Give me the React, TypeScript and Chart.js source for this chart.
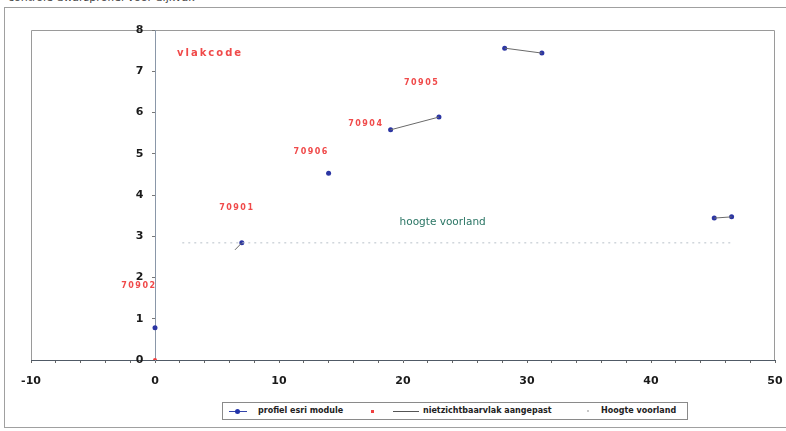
import React, { useEffect, useRef } from "react";
import { Chart, registerables } from "chart.js";

Chart.register(...registerables);

// profiel esri module (blue markers)
const profielX = [0, 7, 14, 19, 22.9, 28.2, 31.2, 45.1, 46.5];
const profielY = [0.78, 2.84, 4.53, 5.58, 5.89, 7.56, 7.44, 3.44, 3.47];

// nietzichtbaarvlak aangepast (grey segments, null = break)
const nzvX = [6.45, 7, null, 19, 22.9, null, 28.2, 31.2, null, 45.1, 46.5];
const nzvY = [2.67, 2.84, null, 5.58, 5.89, null, 7.56, 7.44, null, 3.44, 3.47];

// unnamed red series (vlakcode)
const vlakX = [0];
const vlakY = [0];

// Hoogte voorland
const voorlandX = [2.2, 46.6];
const voorlandY = [2.84, 2.84];

// vlakcode labels
const labelTexts = ["vlakcode", "70905", "70904", "70906", "70901", "70902"];
const labelX = [4.44, 21.5, 17.0, 12.6, 6.6, -1.3];
const labelY = [7.44, 6.72, 5.72, 5.04, 3.68, 1.79];

const noteText = "hoogte voorland";
const noteX = 23.2;
const noteY = 3.35;

const xMin = -10;
const xMax = 50;
const xStep = 2;
const xLabelEvery = 10;
const yMin = 0;
const yMax = 8;
const yStep = 1;

const framePlugin = {
  id: "frame",
  beforeDraw(chart: any) {
    const { ctx, chartArea } = chart;
    ctx.save();
    ctx.strokeStyle = "#9a9a9a";
    ctx.lineWidth = 1;
    ctx.beginPath();
    ctx.moveTo(chartArea.left + 0.5, chartArea.bottom);
    ctx.lineTo(chartArea.left + 0.5, chartArea.top + 0.5);
    ctx.lineTo(chartArea.right - 0.5, chartArea.top + 0.5);
    ctx.lineTo(chartArea.right - 0.5, chartArea.bottom);
    ctx.stroke();
    ctx.restore();
  },
  afterDatasetsDraw(chart: any) {
    const { ctx, scales } = chart;
    const xs = scales.x;
    const ys = scales.y;
    ctx.save();
    ctx.textAlign = "center";
    ctx.textBaseline = "middle";
    labelTexts.forEach((t, i) => {
      const big = i === 0;
      ctx.font = big ? "bold 10px 'DejaVu Sans'" : "bold 8px 'DejaVu Sans'";
      (ctx as any).letterSpacing = big ? "2px" : "1.5px";
      ctx.fillStyle = "#f04a4a";
      ctx.fillText(t, xs.getPixelForValue(labelX[i]), ys.getPixelForValue(labelY[i]));
    });
    (ctx as any).letterSpacing = "0px";
    ctx.font = "500 10.5px 'DejaVu Sans'";
    ctx.fillStyle = "#2a7564";
    ctx.fillText(noteText, xs.getPixelForValue(noteX), ys.getPixelForValue(noteY));
    ctx.restore();
  },
};

export default function App() {
  const ref = useRef<HTMLCanvasElement | null>(null);

  useEffect(() => {
    if (!ref.current) return;
    let lastX = 0;
    const nzvData = nzvX.map((x, i) => {
      if (x !== null) lastX = x;
      return { x: x === null ? lastX : x, y: nzvY[i] };
    });
    const chart = new Chart(ref.current, {
      type: "scatter",
      data: {
        datasets: [
          {
            label: "Hoogte voorland",
            data: voorlandX.map((x, i) => ({ x, y: voorlandY[i] })),
            showLine: true,
            borderColor: "#b8c0c8",
            borderWidth: 1,
            borderDash: [2, 4],
            pointRadius: 0,
          },
          {
            label: "nietzichtbaarvlak aangepast",
            data: nzvData,
            showLine: true,
            spanGaps: false,
            borderColor: "#6a6a6a",
            borderWidth: 1,
            pointRadius: 0,
          },
          {
            label: "profiel esri module",
            data: profielX.map((x, i) => ({ x, y: profielY[i] })),
            showLine: false,
            backgroundColor: "#2b35a3",
            borderColor: "#2b35a3",
            pointRadius: 2.5,
            pointBorderWidth: 0,
          },
          {
            label: "",
            data: vlakX.map((x, i) => ({ x, y: vlakY[i] })),
            showLine: false,
            backgroundColor: "#f04040",
            borderColor: "#f04040",
            pointRadius: 2,
            pointBorderWidth: 0,
          },
        ],
      },
      options: {
        responsive: false,
        animation: false,
        layout: { padding: { left: 31, right: 11, top: 30, bottom: 41 } },
        plugins: {
          legend: { display: false },
          tooltip: { enabled: false },
        },
        scales: {
          x: {
            type: "linear",
            position: "bottom",
            min: xMin,
            max: xMax,
            afterFit: (s: any) => {
              s.height = 30;
              s.paddingLeft = 0;
              s.paddingRight = 0;
            },
            afterBuildTicks: (s: any) => {
              const t = [];
              for (let v = xMin; v <= xMax; v += xStep) t.push({ value: v });
              s.ticks = t;
            },
            ticks: {
              autoSkip: false,
              maxRotation: 0,
              padding: 12,
              color: "#1a1a1a",
              font: { family: "'DejaVu Sans'", size: 11, weight: "bold" },
              callback: (v: any) => (Number(v) % xLabelEvery === 0 ? String(v) : ""),
            },
            grid: {
              drawOnChartArea: false,
              drawTicks: true,
              tickLength: 3,
              color: "#666",
            },
            border: { color: "#505a66", width: 1 },
          },
          y: {
            type: "linear",
            position: { x: 0 } as any,
            min: yMin,
            max: yMax,
            afterFit: (s: any) => {
              s.width = 0;
            },
            ticks: {
              stepSize: yStep,
              padding: 7,
              color: "#1a1a1a",
              font: { family: "'DejaVu Sans'", size: 11, weight: "bold" },
              callback: (v: any) => String(v) + "   ",
            },
            grid: {
              drawOnChartArea: false,
              drawTicks: true,
              tickLength: 3,
              color: "#777",
            },
            border: { color: "#8a97a8", width: 1 },
          },
        },
      },
      plugins: [framePlugin],
    } as any);
    return () => chart.destroy();
  }, []);

  const legendText: React.CSSProperties = {
    position: "absolute",
    top: 3,
    lineHeight: "10px",
    whiteSpace: "nowrap",
  };

  return (
    <div
      style={{
        position: "absolute",
        left: 0,
        top: 0,
        width: 786,
        height: 431,
        overflow: "hidden",
        background: "#fff",
        fontFamily: "'DejaVu Sans', sans-serif",
      }}
    >
      <div
        style={{
          position: "absolute",
          left: 8,
          top: -9,
          fontSize: 11,
          color: "#444",
          whiteSpace: "nowrap",
        }}
      >
        controle dwarsprofiel voor dijkvak
      </div>
      <div
        style={{
          position: "absolute",
          left: 4,
          top: 7,
          width: 800,
          height: 421,
          border: "1px solid #a0a0a0",
          boxSizing: "border-box",
        }}
      />
      <canvas ref={ref} width={786} height={431} style={{ position: "absolute", left: 0, top: 0 }} />
      <div
        style={{
          position: "absolute",
          left: 222,
          top: 402,
          width: 466,
          height: 18,
          border: "1px solid #8a8a8a",
          boxSizing: "border-box",
          fontSize: 8,
          fontWeight: "bold",
          color: "#222",
          background: "#fff",
        }}
      >
        <div style={{ position: "absolute", left: 6, top: 8, width: 18, height: 1, background: "#3344aa" }} />
        <div style={{ position: "absolute", left: 12, top: 6, width: 5, height: 5, borderRadius: "50%", background: "#2233aa" }} />
        <span style={{ ...legendText, left: 35 }}>profiel esri module</span>
        <div style={{ position: "absolute", left: 148, top: 7, width: 3, height: 3, background: "#f04040" }} />
        <div style={{ position: "absolute", left: 170, top: 8, width: 26, height: 1, background: "#555" }} />
        <span style={{ ...legendText, left: 200 }}>nietzichtbaarvlak aangepast</span>
        <div style={{ position: "absolute", left: 364, top: 7, width: 2, height: 2, background: "#c8c8c8" }} />
        <span style={{ ...legendText, left: 378 }}>Hoogte voorland</span>
      </div>
    </div>
  );
}
